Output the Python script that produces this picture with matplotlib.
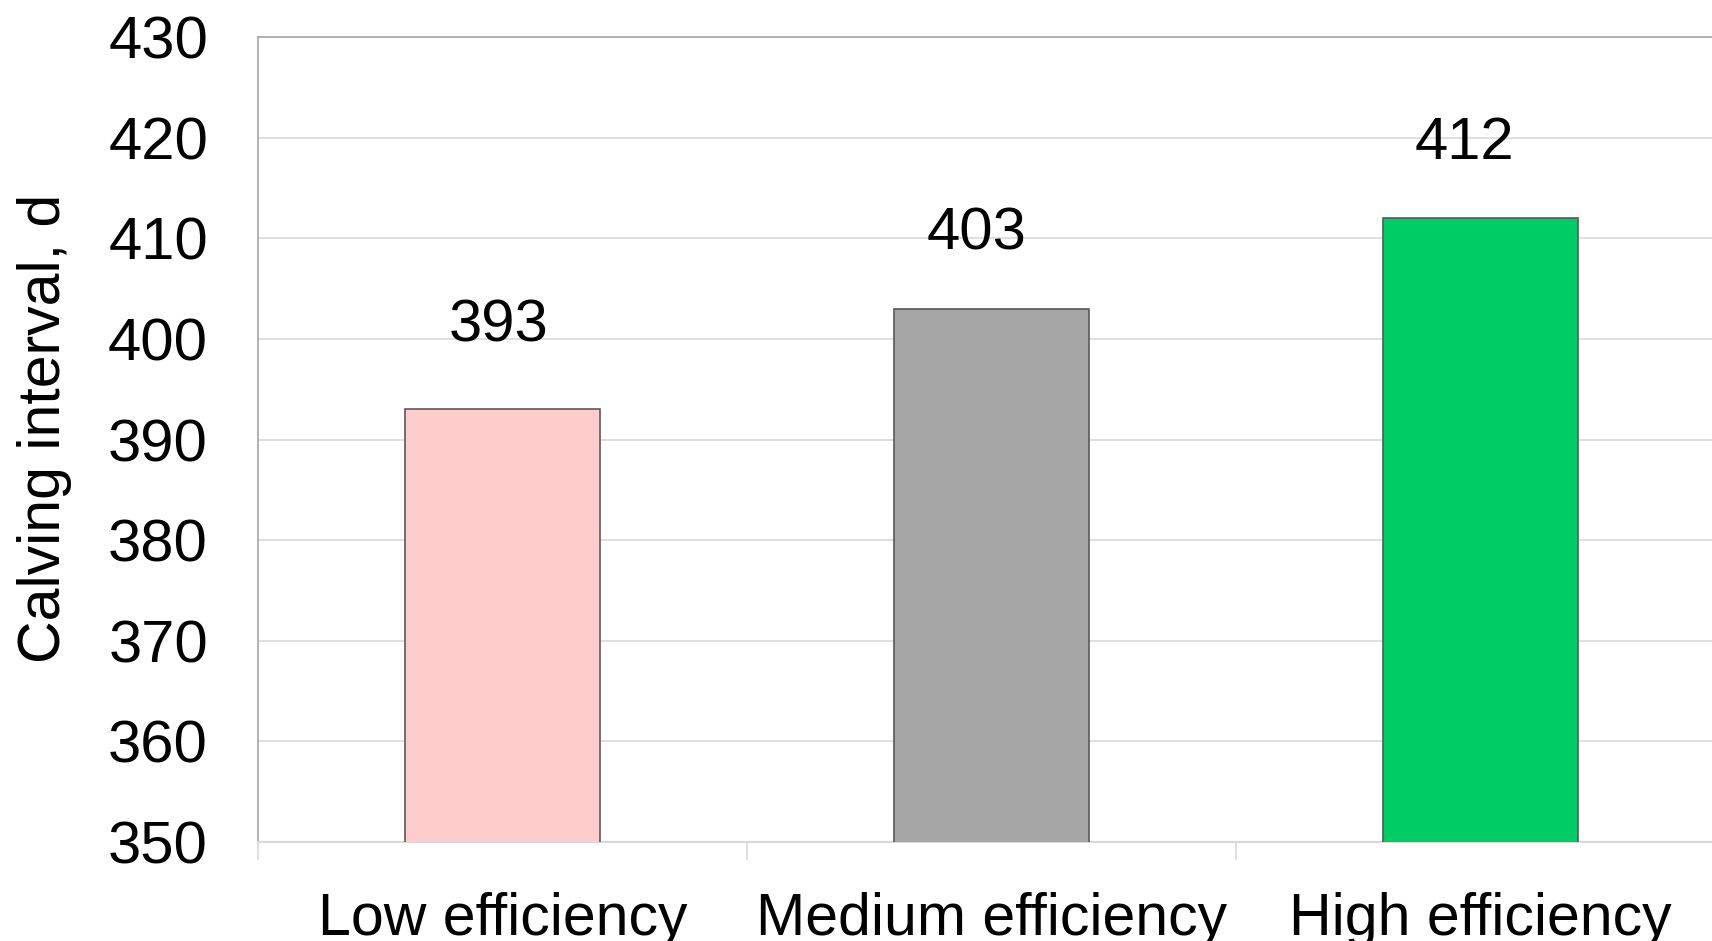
import matplotlib.pyplot as plt

plt.rcParams['font.family'] = ['Liberation Sans', 'DejaVu Sans']

# data
categories = ['Low efficiency', 'Medium efficiency', 'High efficiency']
calving_interval = [393, 403, 412]
bar_colors = ['#ffcccc', '#a6a6a6', '#00cc66']
# hand-placed value labels (offset in points)
label_dx = [-2.5, -11, -11.5]
label_dy = [40, 34, 34]

fig = plt.figure(figsize=(17.12, 9.41), dpi=100)
ax = fig.add_axes([258 / 1712, 1 - 842 / 941, 1467 / 1712, 805 / 941])

x = range(len(categories))
bars = ax.bar(x, calving_interval, width=0.4, color=bar_colors,
              edgecolor='#595959', linewidth=1.2, zorder=3)

for bar, v, dx, dy in zip(bars, calving_interval, label_dx, label_dy):
    ax.annotate(f"{v}", xy=(bar.get_x() + bar.get_width() / 2, v),
                xytext=(dx, dy), textcoords='offset points',
                ha='center', va='bottom', fontsize=43)

ax.set_xlim(-0.5, 2.5)
ax.set_ylim(350, 430)
ax.set_yticks(range(350, 431, 10))
ax.yaxis.grid(True, color='#d9d9d9', linewidth=1.2, zorder=0)
ax.tick_params(axis='y', length=0, pad=36, labelsize=43)

# category labels centred, tick marks between categories
ax.set_xticks(list(x))
ax.set_xticklabels(categories, fontsize=42.5)
ax.tick_params(axis='x', which='major', length=0, pad=36)
ax.set_xticks([-0.5, 0.5, 1.5, 2.5], minor=True)
ax.tick_params(axis='x', which='minor', length=13, width=1.2, color='#d9d9d9')

ax.spines['right'].set_visible(False)
for s in ['top', 'left']:
    ax.spines[s].set_color('#a6a6a6')
    ax.spines[s].set_linewidth(1.2)
ax.spines['bottom'].set_color('#d9d9d9')
ax.spines['bottom'].set_linewidth(1.5)

ax.set_ylabel('Calving interval, d', fontsize=42.5, va='center')
ax.yaxis.set_label_coords(-0.1456, 0.514)

plt.savefig('out.png', dpi=100)
plt.close()
